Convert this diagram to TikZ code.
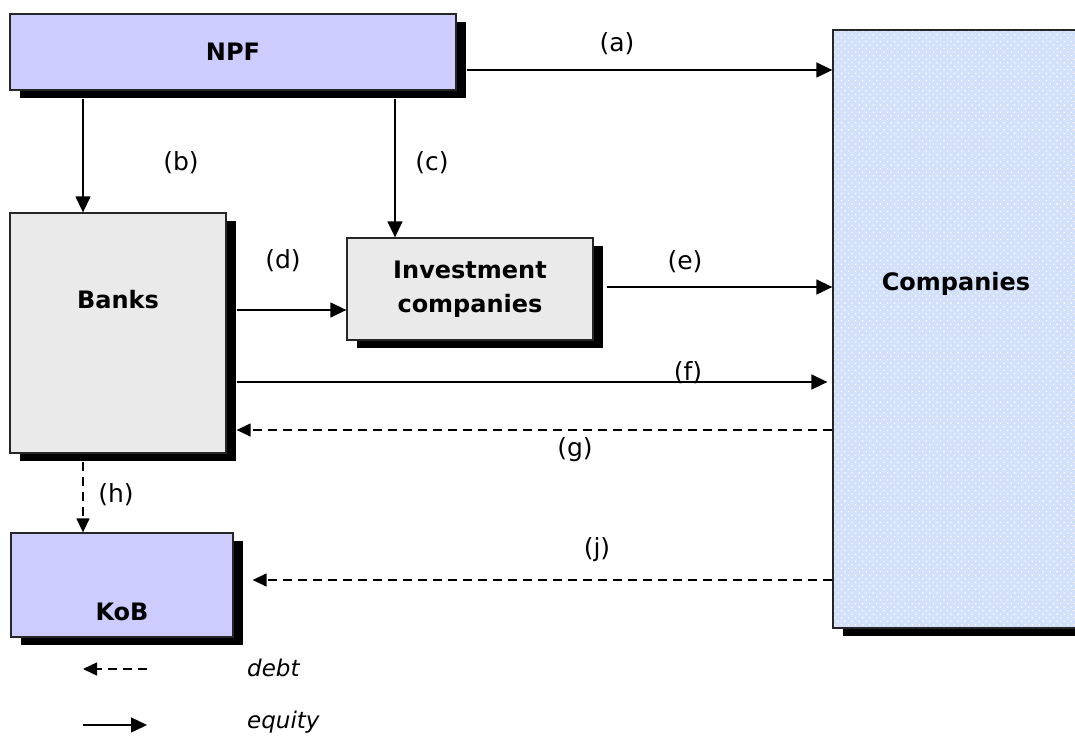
\documentclass[tikz,border=0pt]{standalone}
\usepackage{fontspec}
\setmainfont{DejaVu Sans}
\usetikzlibrary{arrows.meta,patterns.meta,shadows,calc}

\definecolor{npfblue}{RGB}{204,204,255}
\definecolor{boxgray}{RGB}{234,234,234}
\definecolor{compblue}{RGB}{210,224,250}

\begin{document}
\begin{tikzpicture}[x=1pt,y=-1pt,
  every node/.style={font=\fontsize{25}{34}\selectfont},
  box/.style={draw=black!85, line width=1.3pt, inner sep=0pt,
    general shadow={fill=black, shadow xshift=10pt, shadow yshift=-8pt}},
  btxt/.style={font=\fontsize{24}{34}\selectfont\bfseries},
  lab/.style={inner sep=0pt},
  legtxt/.style={anchor=west, inner sep=0pt, font=\fontsize{23}{28}\selectfont\itshape},
  eq/.style={line width=1.4pt, -{Triangle[length=16pt,width=15pt]}},
  debt/.style={line width=1.4pt, dash pattern=on 9pt off 6pt,
    -{Triangle[length=14pt,width=13pt]}},
]
\clip (0,0) rectangle (1075,738);

% boxes
\node[box, fill=npfblue, minimum width=446pt, minimum height=76pt, btxt] (npf) at (233,52) {NPF};
\node[box, fill=boxgray, minimum width=216pt, minimum height=240pt] (banks) at (118,333) {};
\node[btxt] (bankstxt) at (118,300) {Banks};
\node[box, fill=boxgray, minimum width=246pt, minimum height=102pt, align=center, btxt] (inv) at (470,289) {Investment\\companies};
\node[box, fill=npfblue, minimum width=222pt, minimum height=104pt] (kob) at (122,585) {};
\node[btxt] (kobtxt) at (122,612) {KoB};
\node[box, preaction={fill=compblue}, pattern={Dots[distance=5pt, radius=0.9pt, angle=45]}, pattern color=white,
      minimum width=252pt, minimum height=598pt] (comp) at (959,329) {};
\node[btxt] (comptxt) at (956,284) {Companies};

% equity flows
\draw[eq] ($(npf.east |- 0,70)+(10,0)$) -- (comp.west |- 0,70);
\draw[eq] ($(npf.south -| 83,0)+(0,8)$) -- (banks.north -| 83,0);
\draw[eq] ($(npf.south -| 395,0)+(0,8)$) -- (inv.north -| 395,0);
\draw[eq] ($(banks.east |- 0,310)+(10,0)$) -- (inv.west |- 0,310);
\draw[eq] ($(inv.east |- 0,287)+(13,0)$) -- (comp.west |- 0,287);
\draw[eq] ($(banks.east |- 0,382)+(10,0)$) -- ($(comp.west |- 0,382)+(-5,0)$);

% debt flows
\draw[debt] (comp.west |- 0,430) -- ($(banks.east |- 0,430)+(10,0)$);
\draw[debt] ($(banks.south -| 83,0)+(0,8)$) -- (kob.north -| 83,0);
\draw[debt] (comp.west |- 0,580) -- ($(kob.east |- 0,580)+(19,0)$);

% flow labels
\node[lab] (la) at (617,44) {(a)};
\node[lab] (lb) at (181,163) {(b)};
\node[lab] (lc) at (432,163) {(c)};
\node[lab] (ld) at (283,261) {(d)};
\node[lab] (le) at (685,262) {(e)};
\node[lab] (lf) at (688,373) {(f)};
\node[lab] (lg) at (575,450) {(g)};
\node[lab] (lh) at (116,495) {(h)};
\node[lab] (lj) at (597,550) {(j)};

% legend
\coordinate (dl1) at (83,669);
\coordinate (dl2) at (147,669);
\coordinate (el1) at (83,725);
\coordinate (el2) at (147,725);
\draw[debt] (dl2) -- (dl1);
\draw[eq] (el1) -- (el2);
\node[legtxt] (debtlbl) at (247,668) {debt};
\node[legtxt] (eqlbl) at (247,722) {equity};
\end{tikzpicture}
\end{document}
